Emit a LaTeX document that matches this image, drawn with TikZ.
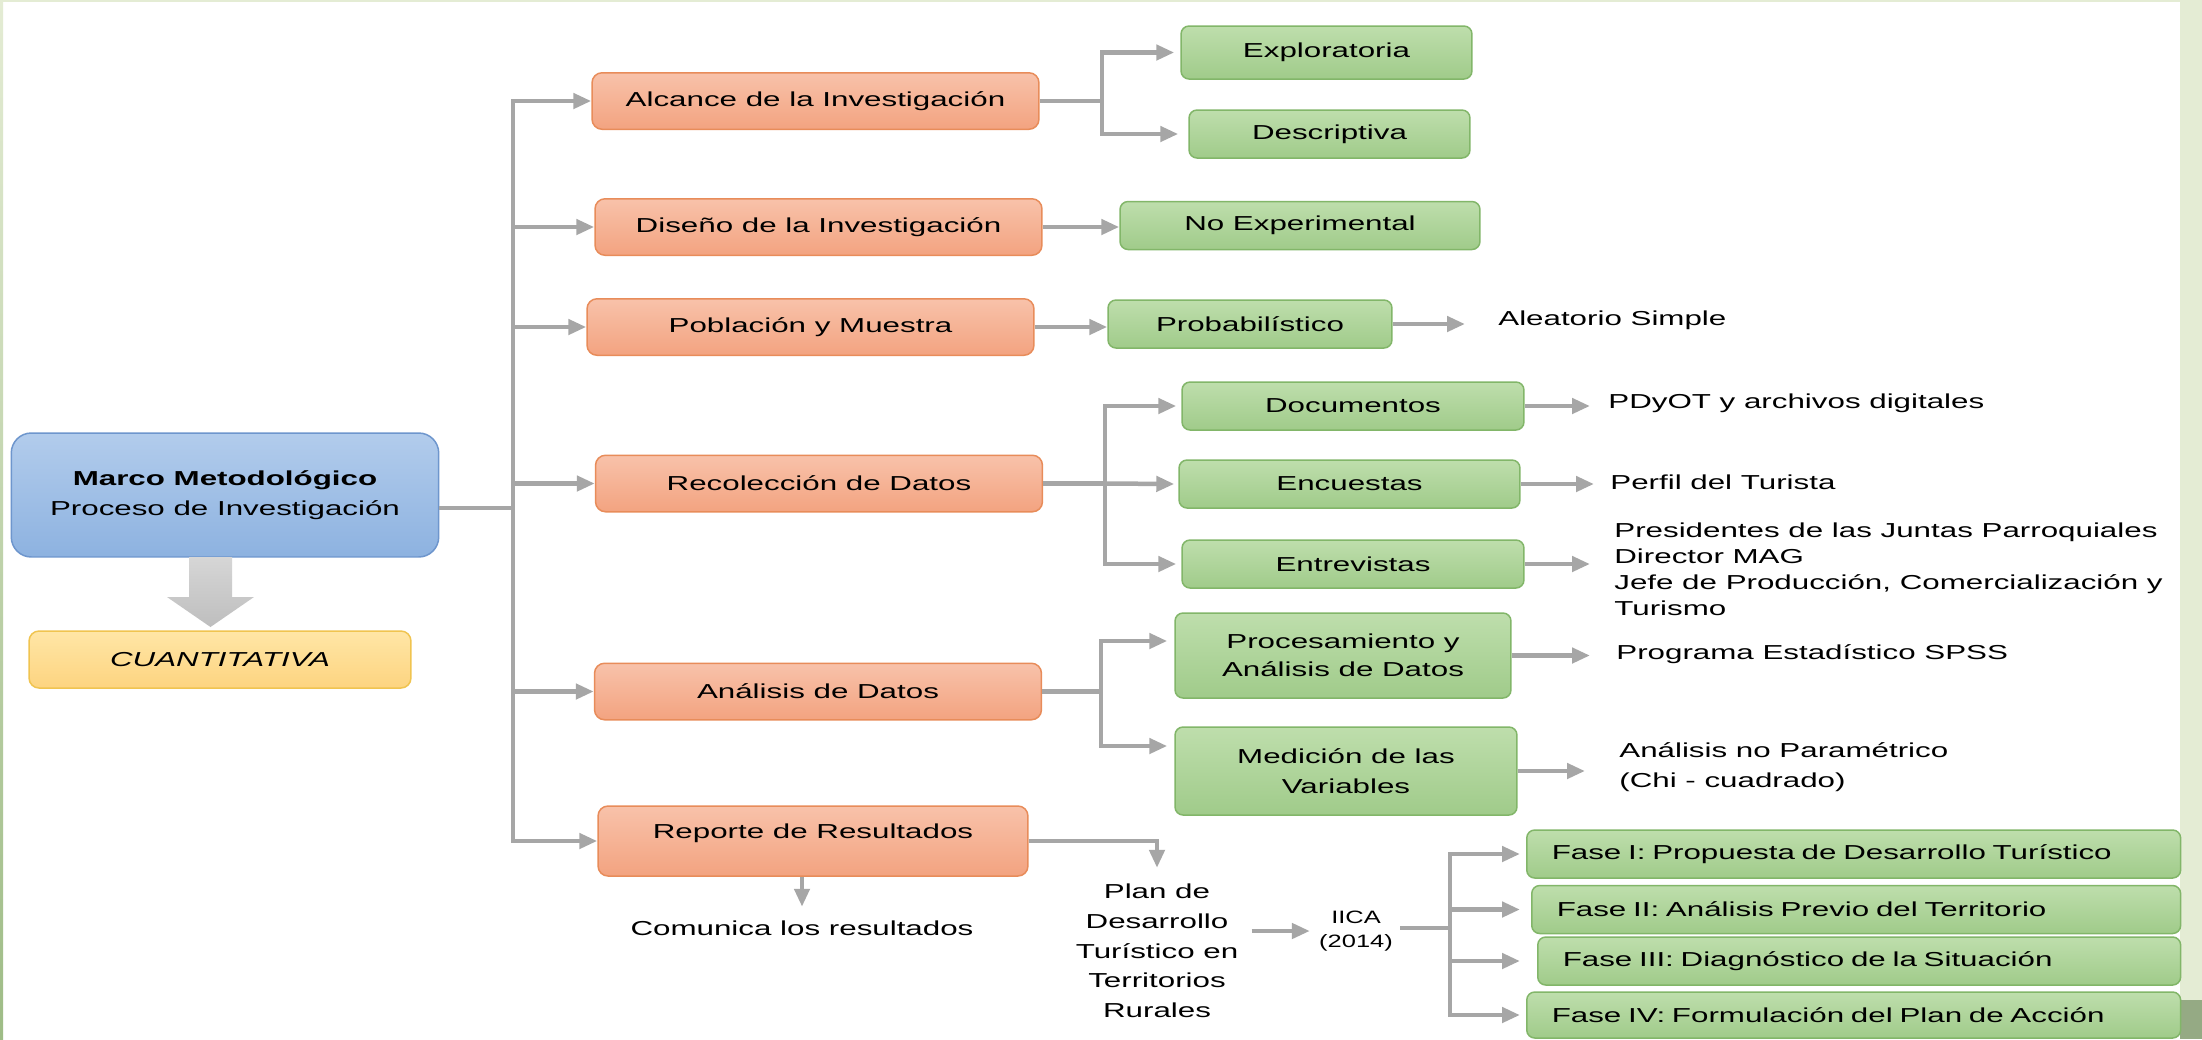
\documentclass[tikz,border=0pt]{standalone}
\usepackage{fontspec}
\setmainfont[FakeStretch=1.55]{Liberation Sans}
\newfontfamily\iicafont[FakeStretch=1.42]{Liberation Sans}
\usepackage{tikz}
\usetikzlibrary{arrows.meta,positioning}
\usepackage{xcolor}
\definecolor{mmblue}{RGB}{178,204,236}
\definecolor{mmbluedark}{RGB}{141,178,224}
\definecolor{mmblueline}{RGB}{110,150,205}
\definecolor{stageorange}{RGB}{248,194,170}
\definecolor{stageorangedark}{RGB}{243,163,128}
\definecolor{stageline}{RGB}{232,140,90}
\definecolor{methodgreen}{RGB}{190,222,172}
\definecolor{methodgreendark}{RGB}{160,203,138}
\definecolor{methodline}{RGB}{130,182,105}
\definecolor{cuantyellow}{RGB}{255,230,166}
\definecolor{cuantyellowdark}{RGB}{253,212,128}
\definecolor{cuantline}{RGB}{240,196,80}
\definecolor{linkgrey}{RGB}{166,166,166}
\definecolor{blockgrey}{RGB}{214,214,214}
\definecolor{blockgreydark}{RGB}{190,190,190}
\definecolor{framegreen}{RGB}{228,236,212}
\definecolor{framedark}{RGB}{158,188,134}
\newcommand{\txt}{\fontsize{11.5}{15}\selectfont}
\tikzstyle{arrow} = [line width=0.09cm, color=linkgrey, -{Triangle[length=0.36cm,width=0.3cm]}]
\tikzstyle{link} = [line width=0.09cm, color=linkgrey]
\tikzstyle{stage} = [rectangle, rounded corners=0.2cm, text centered, draw=stageline, top color=stageorange, bottom color=stageorangedark, line width=0.03cm, minimum width=8.94cm, minimum height=1.13cm, font=\txt]
\tikzstyle{method} = [rectangle, rounded corners=0.16cm, align=center, draw=methodline, top color=methodgreen, bottom color=methodgreendark, line width=0.03cm, minimum height=0.96cm, font=\txt]
\tikzstyle{fase} = [method, align=left, anchor=west, inner xsep=0.5cm]
\tikzstyle{note} = [inner sep=0pt, align=left, font=\txt]

\begin{document}
\begin{tikzpicture}[x=0.02cm, y=-0.02cm]
\useasboundingbox (0,0) rectangle (2202,1039);
\fill[white] (0,0) rectangle (2202,1039);
% Frame
\fill[framegreen] (0,0) rectangle (2202,2);
\shade[top color=framegreen, bottom color=framedark] (0,0) rectangle (3,1039);
\fill[framegreen] (2180,0) rectangle (2202,1039);
\fill[framedark!70!gray] (2180,1000) rectangle (2202,1039);

% Main process
\node (mm) [rectangle, rounded corners=0.4cm, draw=mmblueline, top color=mmblue, bottom color=mmbluedark, line width=0.03cm, minimum width=8.55cm, minimum height=2.48cm, align=center, font=\fontsize{11.5}{17}\selectfont] at (225,495) {\textbf{Marco Metodológico}\\Proceso de Investigación};
\node (cuant) [rectangle, rounded corners=0.2cm, draw=cuantline, top color=cuantyellow, bottom color=cuantyellowdark, line width=0.03cm, minimum width=7.64cm, minimum height=1.14cm, font=\txt\itshape] at (220,659.5) {CUANTITATIVA};
\shade[top color=blockgrey, bottom color=blockgreydark] (189,557) -- (232,557) -- (232,597) -- (254,597) -- (210.5,627) -- (167,597) -- (189,597) -- cycle;

% Stages
\node (alcance) [stage] at (815.5,101) {Alcance de la Investigación};
\node (diseno) [stage] at (818.5,227) {Diseño de la Investigación};
\node (poblacion) [stage] at (810.5,327) {Población y Muestra};
\node (recoleccion) [stage] at (819,483.5) {Recolección de Datos};
\node (analisis) [stage] at (818,691.5) {Análisis de Datos};
\node (reporte) [stage, minimum width=8.6cm, minimum height=1.4cm, text depth=0.4cm] at (813,841) {Reporte de Resultados};

% Methods
\node (explor) [method, minimum width=5.82cm, minimum height=1.06cm] at (1326.5,52.5) {Exploratoria};
\node (descr) [method, minimum width=5.62cm] at (1329.5,134) {Descriptiva};
\node (noexp) [method, minimum width=7.2cm] at (1300,225.5) {No Experimental};
\node (prob) [method, minimum width=5.68cm] at (1250,324) {Probabilístico};
\node (docum) [method, minimum width=6.84cm] at (1353,406) {Documentos};
\node (encue) [method, minimum width=6.82cm] at (1349.5,484) {Encuestas};
\node (entrev) [method, minimum width=6.84cm] at (1353,564) {Entrevistas};
\node (proces) [method, minimum width=6.72cm, minimum height=1.7cm, font=\fontsize{11.5}{16}\selectfont] at (1343,655.5) {Procesamiento y\\Análisis de Datos};
\node (medic) [method, minimum width=6.84cm, minimum height=1.76cm, font=\fontsize{11.5}{17}\selectfont] at (1346,771) {Medición de las\\Variables};

% Phases
\node (fase1) [fase, text width=12.08cm] at (1526,854) {Fase I: Propuesta de Desarrollo Turístico};
\node (fase2) [fase, text width=11.98cm] at (1531,909.5) {Fase II: Análisis Previo del Territorio};
\node (fase3) [fase, text width=11.86cm] at (1537,961) {Fase III: Diagnóstico de la Situación};
\node (fase4) [fase, text width=12.08cm, minimum height=0.92cm] at (1526,1015) {Fase IV: Formulación del Plan de Acción};

% Results
\node (aleat) [note, anchor=west] at (1498,320) {Aleatorio Simple};
\node (pdyot) [note, anchor=west] at (1608,403) {PDyOT y archivos digitales};
\node (perfil) [note, anchor=west] at (1610,482) {Perfil del Turista};
\node (presid) [note, anchor=west, font=\fontsize{11.5}{14.8}\selectfont] at (1614,569) {Presidentes de las Juntas Parroquiales\\Director MAG\\Jefe de Producción, Comercialización y\\Turismo};
\node (spss) [note, anchor=west] at (1616,654) {Programa Estadístico SPSS};
\node (chi) [note, anchor=west, font=\fontsize{11.5}{17}\selectfont] at (1619,767) {Análisis no Paramétrico\\(Chi - cuadrado)};
\node (comunica) [note] at (802,928) {Comunica los resultados};
\node (plan) [note, align=center, font=\fontsize{11.5}{16.9}\selectfont] at (1157,951) {Plan de\\Desarrollo\\Turístico en\\Territorios\\Rurales};
\node (iica) [note, align=center, font=\iicafont\fontsize{10.2}{13.3}\selectfont] at (1356,931) {IICA\\(2014)};

% Trunk
\coordinate (ttop) at (513,101);
\draw[arrow] ([yshift=-0.26cm]mm.east) -| (ttop) -- (alcance.west);
\draw[arrow] (ttop) |- (reporte.west);
\draw[arrow] (diseno.west -| ttop) -- (diseno.west);
\draw[arrow] (poblacion.west -| ttop) -- (poblacion.west);
\draw[arrow] (recoleccion.west -| ttop) -- (recoleccion.west);
\draw[arrow] (analisis.west -| ttop) -- (analisis.west);

% Branches
\coordinate (fa) at (1102,101);
\draw[arrow] (alcance.east) -- (fa) |- ([xshift=-0.12cm]explor.west);
\draw[arrow] (fa) |- ([xshift=-0.2cm]descr.west);
\draw[arrow] (diseno.east) -- (diseno.east -| noexp.west);
\draw[arrow] (poblacion.east) -- (poblacion.east -| prob.west);
\draw[arrow, shorten >=0.66cm] (prob.east) -- (prob.east -| aleat.west);

\coordinate (fr) at (1105,483.5);
\draw[arrow] (recoleccion.east) -- (fr) |- ([xshift=-0.1cm]docum.west);
\draw[arrow] (fr) -- ([xshift=-0.08cm]encue.west);
\draw[arrow] (fr) |- ([xshift=-0.1cm]entrev.west);
\draw[arrow, shorten >=0.36cm] (docum.east) -- (docum.east -| pdyot.west);
\draw[arrow, shorten >=0.32cm] (encue.east) -- (encue.east -| perfil.west);
\draw[arrow, shorten >=0.48cm] (entrev.east) -- (entrev.east -| presid.west);

\coordinate (fn) at (1101,691.5);
\draw[arrow] (analisis.east) -- (fn) |- ([xshift=-0.14cm, yshift=0.29cm]proces.west);
\draw[arrow] (fn) |- ([xshift=-0.14cm, yshift=0.5cm]medic.west);
\draw[arrow, shorten >=0.52cm] (proces.east) -- (proces.east -| spss.west);
\draw[arrow, shorten >=0.68cm] (medic.east) -- (medic.east -| chi.west);

\draw[arrow, shorten >=0.32cm] (reporte.east) -| (plan.north);
\draw[arrow, shorten >=0.27cm] (reporte.south -| comunica.north) -- (comunica.north);
\draw[arrow, shorten <=0.26cm, shorten >=0.18cm] (plan.east |- iica.west) -- (iica.west);

\coordinate (fi) at (1450,928);
\draw[link, shorten <=0.14cm] (iica.east |- fi) -- (fi);
\draw[arrow] (fi) |- ([xshift=-0.12cm]fase1.west);
\draw[arrow] (fi) |- ([xshift=-0.12cm]fase1.west |- fase2.west);
\draw[arrow] (fi) |- ([xshift=-0.12cm]fase1.west |- fase3.west);
\draw[arrow] (fi) |- ([xshift=-0.12cm]fase1.west |- fase4.west);
\end{tikzpicture}
\end{document}
